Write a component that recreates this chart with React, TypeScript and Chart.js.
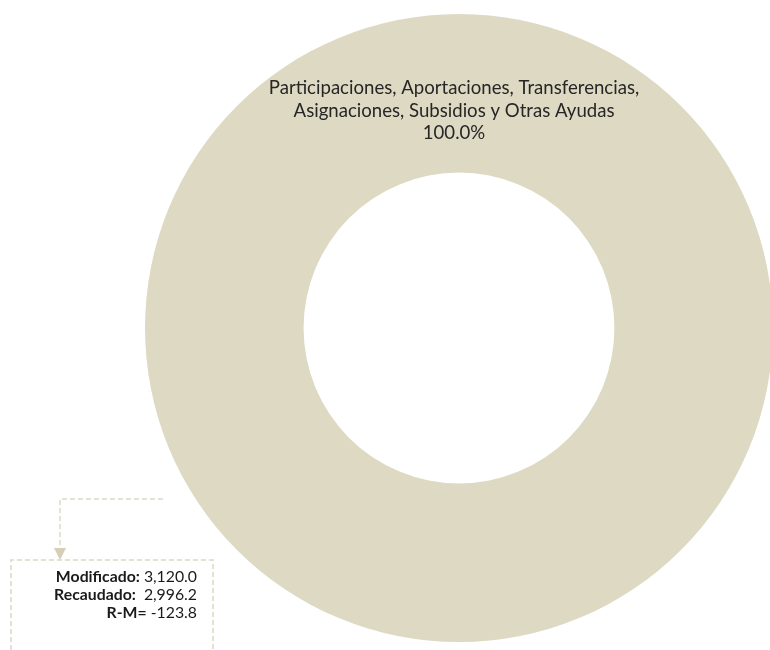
import React, { useEffect, useRef } from "react";
import { Chart, registerables } from "chart.js";

Chart.register(...registerables);

const categories = ["Participaciones, Aportaciones, Transferencias, Asignaciones, Subsidios y Otras Ayudas"];
const labelLines = ["Participaciones, Aportaciones, Transferencias,", "Asignaciones, Subsidios y Otras Ayudas"];
const values = [2996.2];
const colors = ["#DDD9C3"];
const summaryLabels = ["Modificado:", "Recaudado:", "R-M="];
const summaryValues = [" 3,120.0", "  2,996.2", " -123.8"];

const FONT = "Lato, 'Open Sans', sans-serif";

const labelPlugin = {
  id: "customLabels",
  afterDraw(chart: any) {
    const ctx = chart.ctx as CanvasRenderingContext2D;
    const meta = chart.getDatasetMeta(0);
    const total = values.reduce((a, b) => a + b, 0);
    ctx.save();
    meta.data.forEach((arc: any, i: number) => {
      const pct = ((values[i] / total) * 100).toFixed(1) + "%";
      const cx = arc.x - 5;
      const cy = arc.y - (arc.outerRadius + arc.innerRadius) * 0.463;
      ctx.fillStyle = "#262626";
      ctx.font = `18.6px ${FONT}`;
      ctx.textAlign = "center";
      ctx.textBaseline = "middle";
      const lines = [...labelLines, pct];
      const lh = 22.5;
      lines.forEach((l, k) => {
        ctx.fillText(l, cx, cy + (k - (lines.length - 1) / 2) * lh);
      });
    });

    // callout
    ctx.strokeStyle = "#DDD9C3";
    ctx.lineWidth = 1.5;
    ctx.setLineDash([5, 3]);
    ctx.beginPath();
    ctx.moveTo(163, 499);
    ctx.lineTo(60, 499);
    ctx.lineTo(60, 549);
    ctx.stroke();
    ctx.beginPath();
    ctx.moveTo(11, 650);
    ctx.lineTo(11, 560);
    ctx.lineTo(213, 560);
    ctx.lineTo(213, 650);
    ctx.stroke();
    ctx.setLineDash([]);
    ctx.fillStyle = "#D5D0B5";
    ctx.beginPath();
    ctx.moveTo(54, 548);
    ctx.lineTo(66, 548);
    ctx.lineTo(60, 560);
    ctx.closePath();
    ctx.fill();

    ctx.textAlign = "right";
    ctx.textBaseline = "middle";
    const rx = 197;
    summaryLabels.forEach((lab, k) => {
      const y = 577 + k * 18;
      ctx.font = `15.8px ${FONT}`;
      ctx.fillStyle = "#1a1a1a";
      const v = summaryValues[k];
      ctx.fillText(v, rx, y);
      const w = ctx.measureText(v).width;
      ctx.font = `bold 15.8px ${FONT}`;
      ctx.fillText(lab, rx - w, y);
    });
    ctx.restore();
  },
};

export default function App() {
  const ref = useRef<HTMLCanvasElement>(null);
  useEffect(() => {
    if (!ref.current) return;
    const chart = new Chart(ref.current, {
      type: "doughnut",
      data: {
        labels: categories,
        datasets: [
          {
            data: values,
            backgroundColor: colors,
            borderWidth: 0,
          },
        ],
      },
      options: {
        responsive: false,
        animation: false,
        cutout: "49.5%",
        layout: { padding: { left: 145, right: 27, top: 14, bottom: 8 } },
        plugins: {
          legend: { display: false },
          tooltip: { enabled: false },
        },
      },
      plugins: [labelPlugin],
    });
    return () => chart.destroy();
  }, []);
  return (
    <div style={{ position: "fixed", left: 0, top: 0, width: 770, height: 650, overflow: "hidden", background: "#fff" }}>
      <canvas ref={ref} width={800} height={650} style={{ width: 800, height: 650, display: "block" }} />
    </div>
  );
}
